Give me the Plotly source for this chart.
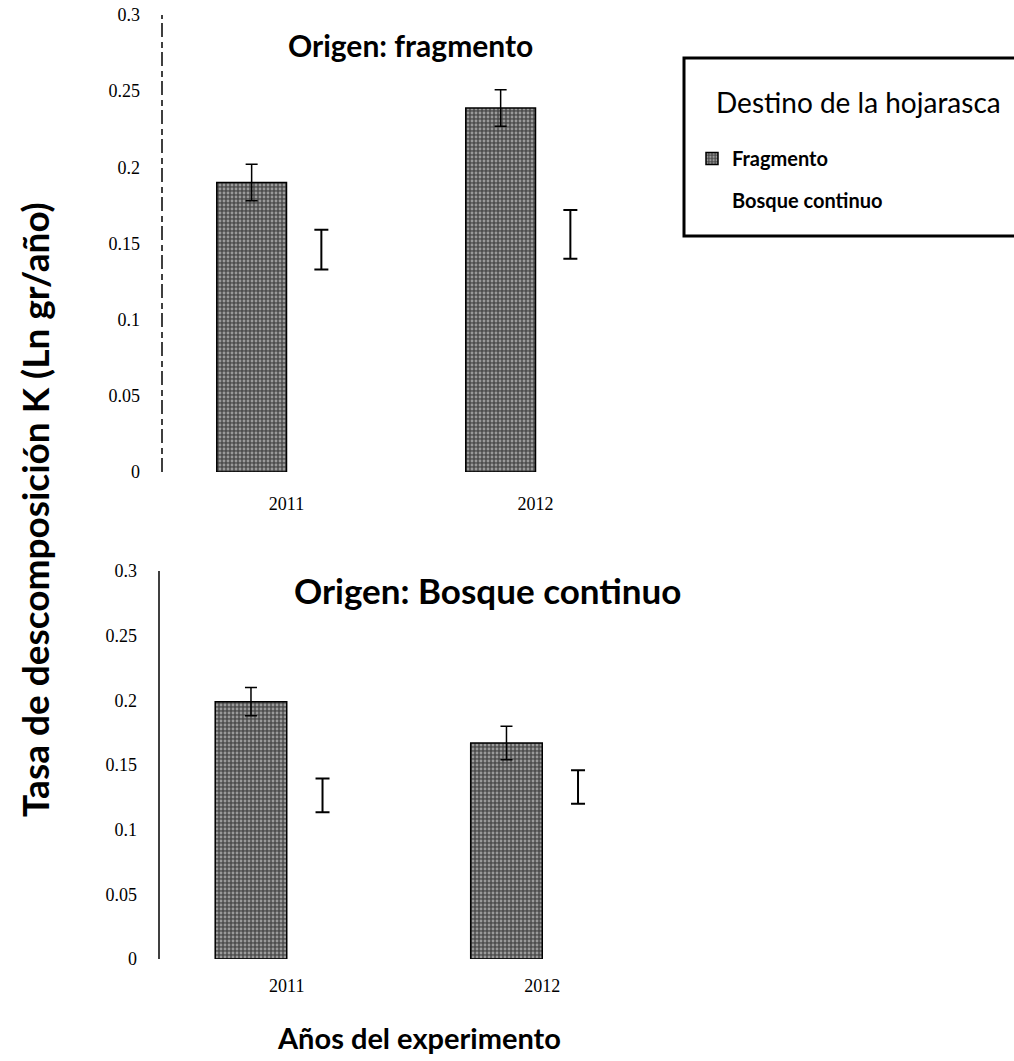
import plotly.graph_objects as go

# Decomposition rate (Ln gr/año) by litter origin, destination and year
years = ["2011", "2012"]
destinos = ["Fragmento", "Bosque continuo"]

# Origin: fragmento
frag_origen_fragmento = [0.190, 0.239]
frag_origen_fragmento_err = [0.012, 0.012]
bosque_origen_fragmento = [0.146, 0.156]
bosque_origen_fragmento_err = [0.013, 0.016]

# Origin: bosque continuo
frag_origen_bosque = [0.199, 0.167]
frag_origen_bosque_err = [0.011, 0.013]
bosque_origen_bosque = [0.1265, 0.133]
bosque_origen_bosque_err = [0.013, 0.013]

y_ticks = [0, 0.05, 0.1, 0.15, 0.2, 0.25, 0.3]
y_ticktext = ["0", "0.05", "0.1", "0.15", "0.2", "0.25", "0.3"]

W, H = 1014, 1061
TITLE_FONT = "Lato"
TICK_FONT = "Liberation Serif"
BAR_W = 0.28


def px_x(v):
    return v / W


def px_y(v):
    return 1 - v / H


speckle = dict(shape=".", bgcolor="#4e4e4e", fgcolor="#e6e6e6", size=4, solidity=0.4)

fig = go.Figure()

panels = [
    ("x", "y", frag_origen_fragmento, frag_origen_fragmento_err,
     bosque_origen_fragmento, bosque_origen_fragmento_err, True),
    ("x2", "y2", frag_origen_bosque, frag_origen_bosque_err,
     bosque_origen_bosque, bosque_origen_bosque_err, False),
]

for xa, ya, fv, fe, bv, be, show in panels:
    fig.add_trace(go.Bar(
        x=years, y=fv, name=destinos[0], xaxis=xa, yaxis=ya,
        width=BAR_W, offset=-BAR_W,
        marker=dict(color="#777777", pattern=speckle,
                    line=dict(color="black", width=1.5)),
        error_y=dict(type="data", array=fe, color="black", thickness=1.5, width=6),
        showlegend=show, legendgroup="frag",
    ))
    # white series: bars are not visible on the white background, only the error bars
    fig.add_trace(go.Bar(
        x=years, y=bv, name=destinos[1], xaxis=xa, yaxis=ya,
        width=BAR_W, offset=0,
        marker=dict(color="rgba(255,255,255,0)", line=dict(color="rgba(255,255,255,0)", width=0)),
        error_y=dict(type="data", array=be, color="black", thickness=2, width=7),
        showlegend=show, legendgroup="bosque",
    ))

common_y = dict(
    range=[0, 0.3], tickvals=y_ticks, ticktext=y_ticktext,
    showgrid=False, zeroline=False, showline=False,
    tickfont=dict(family=TICK_FONT, size=18, color="black"),
    ticklabelstandoff=21, ticks="",
)
common_x = dict(
    type="category", range=[-0.5, 1.5], showgrid=False, zeroline=False, showline=False,
    tickfont=dict(family=TICK_FONT, size=18, color="black"), ticks="",
)

fig.update_layout(
    width=W, height=H,
    margin=dict(l=0, r=0, t=0, b=0, autoexpand=False),
    paper_bgcolor="white", plot_bgcolor="white",
    barmode="overlay",
    xaxis=dict(common_x, domain=[px_x(162), px_x(660)], anchor="y", ticklabelstandoff=19),
    yaxis=dict(common_y, domain=[px_y(472), px_y(15)], anchor="x"),
    xaxis2=dict(common_x, domain=[px_x(159), px_x(670)], anchor="y2", ticklabelstandoff=14),
    yaxis2=dict(common_y, domain=[px_y(959), px_y(571)], anchor="x2"),
    legend=dict(
        x=px_x(692), y=px_y(139), xanchor="left", yanchor="top",
        bgcolor="rgba(0,0,0,0)", borderwidth=0,
        font=dict(family=TITLE_FONT, size=20, color="black", weight="bold"),
        tracegroupgap=13, itemwidth=30, traceorder="grouped",
    ),
    showlegend=True,
)

# Vertical axis lines
fig.add_shape(type="line", xref="x domain", yref="y domain", x0=0, x1=0, y0=0, y1=1,
              line=dict(color="black", width=1.5, dash="14px,4px,6px,5px"))
fig.add_shape(type="line", xref="x2 domain", yref="y2 domain", x0=0, x1=0, y0=0, y1=1,
              line=dict(color="black", width=1.5))

# Legend frame and heading
fig.add_shape(type="rect", xref="paper", yref="paper",
              x0=px_x(684), x1=px_x(1020), y0=px_y(236), y1=px_y(58),
              line=dict(color="black", width=3), fillcolor="rgba(0,0,0,0)")
fig.add_annotation(text="Destino de la hojarasca", x=px_x(858), y=px_y(102),
                   xref="paper", yref="paper", showarrow=False,
                   xanchor="center", yanchor="middle",
                   font=dict(family=TITLE_FONT, size=28, color="black"))

# Panel titles and axis titles
fig.add_annotation(text="<b>Origen: fragmento</b>", x=px_x(410), y=px_y(45),
                   xref="paper", yref="paper", showarrow=False,
                   xanchor="center", yanchor="middle",
                   font=dict(family=TITLE_FONT, size=30, color="black"))
fig.add_annotation(text="<b>Origen: Bosque continuo</b>", x=px_x(487), y=px_y(590),
                   xref="paper", yref="paper", showarrow=False,
                   xanchor="center", yanchor="middle",
                   font=dict(family=TITLE_FONT, size=35, color="black"))
fig.add_annotation(text="<b>Tasa de descomposición K (Ln gr/año)</b>", x=px_x(34), y=px_y(510),
                   xref="paper", yref="paper", showarrow=False, textangle=-90,
                   xanchor="center", yanchor="middle",
                   font=dict(family=TITLE_FONT, size=37, color="black"))
fig.add_annotation(text="<b>Años del experimento</b>", x=px_x(419), y=px_y(1037),
                   xref="paper", yref="paper", showarrow=False,
                   xanchor="center", yanchor="middle",
                   font=dict(family=TITLE_FONT, size=29, color="black"))

fig.write_html("out.html")
